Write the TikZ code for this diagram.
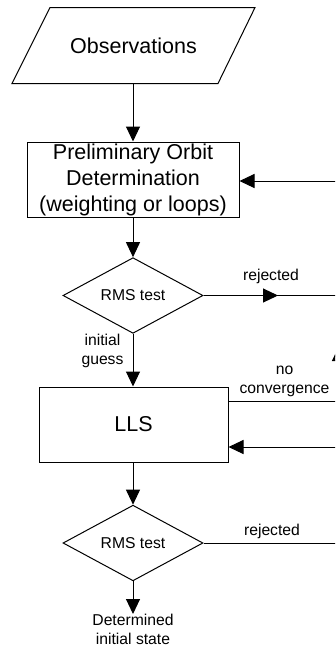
\documentclass[tikz,border=0pt]{standalone}
\usepackage{fontspec}
\setmainfont{Liberation Sans}
\usetikzlibrary{arrows.meta,shapes.geometric,decorations.markings}
\begin{document}
\begin{tikzpicture}[x=1pt,y=-1pt,
  line width=1pt,
  tip/.tip={Triangle[length=15pt,width=14pt]},
  flow/.style={draw, -tip},
  bigtext/.style={font=\fontsize{21.5}{26}\selectfont, align=center},
  smalltext/.style={font=\fontsize{15.7}{18.5}\selectfont, align=center},
  procbox/.style={draw, rectangle, inner sep=0pt, bigtext},
  decision/.style={draw, diamond, inner sep=0pt, minimum width=140pt, minimum height=65pt, smalltext},
  midtip/.style={postaction={decorate}, decoration={markings, mark=at position #1 with {\arrow{tip}}}}
]
\useasboundingbox (0,0) rectangle (335,648);
\clip (0,0) rectangle (335,648);
\fill[white] (0,0) rectangle (335,648);

% input parallelogram
\node[bigtext, minimum width=168pt, minimum height=75pt, inner sep=0pt] (obs) at (133.5,45.5) {Observations};
\draw ([xshift=-121.5pt]obs.south) -- ([xshift=84.5pt]obs.south)
      -- ([xshift=121.5pt]obs.north) -- ([xshift=-83.5pt]obs.north) -- cycle;

\node[procbox, minimum width=212pt, minimum height=75pt] (pod) at (133,179.5)
  {Preliminary Orbit\\Determination\\(weighting or loops)};
\node[decision] (rms1) at (133,295.5) {RMS test};
\node[procbox, minimum width=189pt, minimum height=75pt] (lls) at (133.5,424.5) {LLS};
\node[decision] (rms2) at (133,543) {RMS test};
\node[smalltext, inner sep=0pt, anchor=north] (out) at (133,614) {Determined\\initial state};

% off-page return paths
\coordinate (r1) at (339,295.5);
\coordinate (r2) at (339,543);
\coordinate (r3) at (339,181);
\coordinate (r4) at (339,447);
\coordinate (r5) at (339,401);

% main flow
\draw[flow] (obs.south -| 133,0) -- (pod.north -| 133,0);
\draw[flow] (pod.south -| 133,0) -- (rms1.north);
\draw[flow] (rms1.south) -- (lls.north -| 133,0);
\draw[flow] (lls.south -| 133,0) -- (rms2.north);
\draw[flow] (rms2.south) -- (out.north);

% loops
\draw[midtip=0.55] (rms1.east) -- (r1);
\draw (rms2.east) -- (r2);
\draw[flow] (r3) -- (pod.east |- r3);
\draw[flow] (r4) -- (lls.east |- r4);
\draw (lls.east |- r5) -- (r5);
\draw[flow, shorten >=-0pt] (r5) -- (339,346);
\draw (339,346) -- (r3);

% labels
\node[smalltext] (lrej1) at (271,276) {rejected};
\node[smalltext] (lrej2) at (272,531) {rejected};
\node[smalltext] (lig) at (102.5,351) {initial\\guess};
\node[smalltext] (lnc) at (284.5,381.5) {no\\convergence};
\end{tikzpicture}
\end{document}
